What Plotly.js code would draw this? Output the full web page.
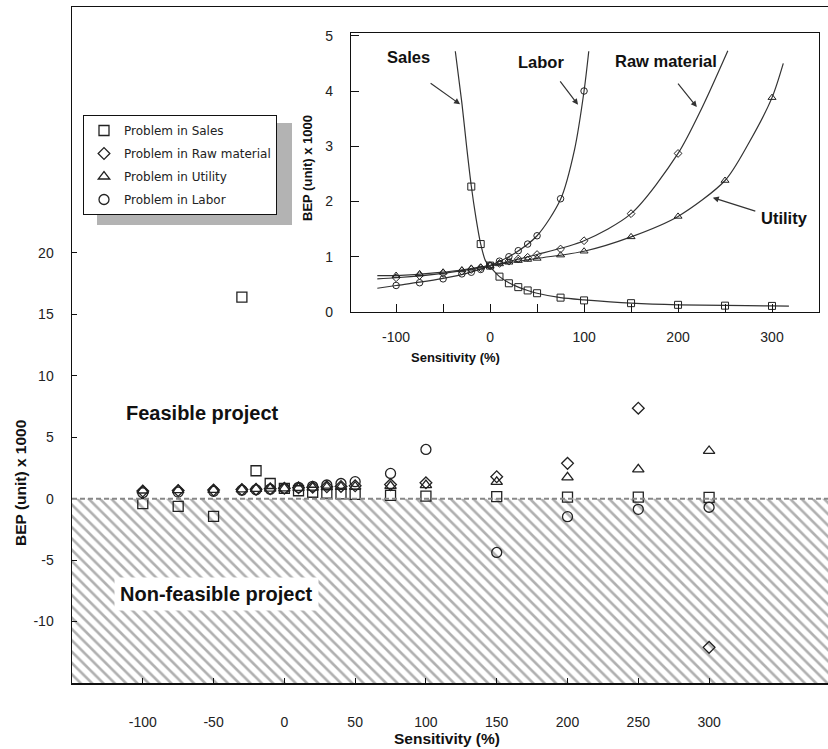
<!DOCTYPE html>
<html>
<head>
<meta charset="utf-8">
<script src="https://cdn.plot.ly/plotly-3.0.1.min.js"></script>
<style>html,body{margin:0;padding:0;background:#fff;}#chart{width:828px;height:749px;}</style>
</head>
<body>
<div id="chart"></div>
<script>
// ---- data (BEP in thousand units vs sensitivity %) ----
const sensitivity = [-100, -75, -50, -30, -20, -10, 0, 10, 20, 30, 40, 50, 75, 100, 150, 200, 250, 300];
const bepSales    = [-0.40, -0.63, -1.45, 16.4, 2.27, 1.23, 0.84, 0.64, 0.52, 0.45, 0.39, 0.34, 0.26, 0.21, 0.16, 0.13, 0.115, 0.11];
const bepRaw      = [0.62, 0.66, 0.70, 0.74, 0.77, 0.80, 0.84, 0.88, 0.92, 0.96, 0.99, 1.04, 1.14, 1.29, 1.78, 2.87, 7.36, -12.1];
const bepUtility  = [0.66, 0.69, 0.72, 0.76, 0.79, 0.81, 0.84, 0.87, 0.90, 0.93, 0.95, 0.97, 1.03, 1.10, 1.36, 1.73, 2.38, 3.88];
const bepLabor    = [0.48, 0.53, 0.60, 0.69, 0.72, 0.77, 0.84, 0.92, 1.00, 1.11, 1.23, 1.38, 2.05, 4.00, -4.38, -1.47, -0.87, -0.70];

// fitted curves
const curveSalesX   = [-37, -30, -25, -20, -15, -10, -5, 0, 10, 20, 30, 40, 50, 75, 100, 150, 200, 250, 300, 318];
const curveSalesY   = [4.72, 3.78, 3.00, 2.28, 1.70, 1.23, 0.93, 0.82, 0.64, 0.53, 0.45, 0.39, 0.34, 0.26, 0.22, 0.16, 0.13, 0.12, 0.11, 0.105];
const curveLaborX   = [-120, -100, -75, -50, -25, 0, 25, 50, 75, 90, 100, 105];
const curveLaborY   = [0.43, 0.48, 0.54, 0.61, 0.70, 0.84, 1.05, 1.38, 2.04, 2.95, 4.00, 4.72];
const curveRawX     = [-120, -100, -50, 0, 50, 100, 150, 200, 225, 253];
const curveRawY     = [0.60, 0.62, 0.70, 0.84, 1.04, 1.29, 1.78, 2.87, 3.68, 4.73];
const curveUtilX    = [-120, -100, -50, 0, 50, 100, 150, 200, 250, 275, 300, 312];
const curveUtilY    = [0.66, 0.66, 0.72, 0.84, 0.97, 1.10, 1.36, 1.73, 2.38, 3.05, 3.88, 4.50];

const seriesNames = ['Problem in Sales', 'Problem in Raw material', 'Problem in Utility', 'Problem in Labor'];
const mainXTicks = [-100, -50, 0, 50, 100, 150, 200, 250, 300];
const mainXTickText = ['-100', '-50', '0', '50', '100', '150', '200', '250', '300'];
const mainYTicks = [-10, -5, 0, 5, 10, 15, 20];
const mainYTickText = ['-10', '-5', '0', '5', '10', '15', '20'];
const insetXTicks = [-100, -50, 0, 50, 100, 150, 200, 250, 300];
const insetXTickText = ['-100', '', '0', '', '100', '', '200', '', '300'];
const insetYTicks = [0, 1, 2, 3, 4, 5];
const mainXRange = [-150, 384];
const mainYRange = [-15, 40];
const insetXRange = [-148, 350];
const insetYRange = [0, 5.05];

// ---- styling ----
const FONT = 'Liberation Sans, Arial, sans-serif';
const INK = '#222';
const symbols = ['square-open', 'diamond-open', 'triangle-up-open', 'circle-open'];
const mainSizes = [10, 9, 10, 10];
const insetSizes = [7, 6, 7, 6.5];
const seriesY = [bepSales, bepRaw, bepUtility, bepLabor];

const traces = [];
// hatched non-feasible region (below zero)
traces.push({
  x: mainXRange, y: [mainYRange[0], mainYRange[0]],
  type: 'scatter', mode: 'lines', fill: 'tozeroy',
  line: {width: 0, color: 'rgba(0,0,0,0)'},
  fillcolor: 'rgba(0,0,0,0)',
  fillpattern: {shape: '\\', fgcolor: '#b0b0b0', bgcolor: 'white', size: 8, solidity: 0.33},
  showlegend: false, hoverinfo: 'skip', xaxis: 'x', yaxis: 'y'
});
// main scatter
for (let i = 0; i < 4; i++) {
  traces.push({
    x: sensitivity, y: seriesY[i], name: seriesNames[i], type: 'scatter', mode: 'markers',
    marker: {symbol: symbols[i], size: mainSizes[i], color: INK, line: {color: INK, width: 1.3}},
    legendgroup: 'g' + i, xaxis: 'x', yaxis: 'y'
  });
}
// inset curves
const curves = [[curveSalesX, curveSalesY], [curveRawX, curveRawY], [curveUtilX, curveUtilY], [curveLaborX, curveLaborY]];
for (const c of curves) {
  traces.push({
    x: c[0], y: c[1], type: 'scatter', mode: 'lines',
    line: {color: '#333', width: 1.2, shape: 'spline', smoothing: 0.8},
    showlegend: false, hoverinfo: 'skip', xaxis: 'x2', yaxis: 'y2', cliponaxis: true
  });
}
// inset markers
for (let i = 0; i < 4; i++) {
  traces.push({
    x: sensitivity, y: seriesY[i], type: 'scatter', mode: 'markers',
    marker: {symbol: symbols[i], size: insetSizes[i], color: INK, line: {color: INK, width: 1}},
    showlegend: false, xaxis: 'x2', yaxis: 'y2', cliponaxis: true
  });
}

const W = 828, H = 749, L = 72, R = 0, T = 7, B = 66;
const pw = W - L - R, ph = H - T - B;
const px = v => (v - L) / pw;          // pixel -> paper x
const py = v => (H - B - v) / ph;      // pixel -> paper y
const C = {xanchor: 'center', yanchor: 'middle', showarrow: false};

const annotations = [
  Object.assign({text: '<b>Feasible project</b>', x: -58, y: 6.93, xref: 'x', yref: 'y',
   font: {family: FONT, size: 20, color: '#111'}}, C),
  Object.assign({text: '<b>Non-feasible project</b>', x: -48, y: -7.74, xref: 'x', yref: 'y',
   bgcolor: 'white', borderpad: 5, font: {family: FONT, size: 20, color: '#111'}}, C),
  Object.assign({text: '<b>BEP (unit) x 1000</b>', x: px(20), y: py(483), xref: 'paper', yref: 'paper',
   textangle: -90, font: {family: FONT, size: 15.5, color: '#111'}}, C),
  Object.assign({text: '<b>Sensitivity (%)</b>', x: px(447), y: py(738), xref: 'paper', yref: 'paper',
   font: {family: FONT, size: 15.5, color: '#111'}}, C),
  // inset titles
  Object.assign({text: '<b>BEP (unit) x 1000</b>', x: px(307), y: py(168), xref: 'paper', yref: 'paper',
   textangle: -90, font: {family: FONT, size: 13, color: '#111'}}, C),
  Object.assign({text: '<b>Sensitivity (%)</b>', x: px(455), y: py(357), xref: 'paper', yref: 'paper',
   font: {family: FONT, size: 13, color: '#111'}}, C),
  // inset labels
  Object.assign({text: '<b>Sales</b>', x: -87, y: 4.62, xref: 'x2', yref: 'y2', font: {family: FONT, size: 16.5, color: '#111'}}, C),
  Object.assign({text: '<b>Labor</b>', x: 54, y: 4.53, xref: 'x2', yref: 'y2', font: {family: FONT, size: 16.5, color: '#111'}}, C),
  Object.assign({text: '<b>Raw material</b>', x: 187, y: 4.55, xref: 'x2', yref: 'y2', font: {family: FONT, size: 16.5, color: '#111'}}, C),
  Object.assign({text: '<b>Utility</b>', x: 313, y: 1.71, xref: 'x2', yref: 'y2', font: {family: FONT, size: 16.5, color: '#111'}}, C),
  // arrows
  {text: '', x: -31.9, y: 3.76, xref: 'x2', yref: 'y2', showarrow: true, ax: -31, ay: -22, arrowhead: 2, arrowsize: 1, arrowwidth: 1.2, arrowcolor: '#333'},
  {text: '', x: 93.6, y: 3.75, xref: 'x2', yref: 'y2', showarrow: true, ax: -19, ay: -25, arrowhead: 2, arrowsize: 1, arrowwidth: 1.2, arrowcolor: '#333'},
  {text: '', x: 220, y: 3.71, xref: 'x2', yref: 'y2', showarrow: true, ax: -20, ay: -25, arrowhead: 2, arrowsize: 1, arrowwidth: 1.2, arrowcolor: '#333'},
  {text: '', x: 237, y: 2.07, xref: 'x2', yref: 'y2', showarrow: true, ax: 44, ay: 14, arrowhead: 2, arrowsize: 1, arrowwidth: 1.2, arrowcolor: '#333'}
];

const shapes = [
  // zero line
  {type: 'line', xref: 'paper', yref: 'y', x0: 0, x1: 1, y0: 0, y1: 0,
   line: {color: '#888', width: 2, dash: '5px,3px'}},
  // legend shadow
  {type: 'rect', xref: 'paper', yref: 'paper', x0: px(97), x1: px(292), y0: py(225), y1: py(123),
   fillcolor: '#b3b3b3', line: {width: 0}}
];

const axisCommon = {showgrid: false, zeroline: false, showline: true, linecolor: '#111',
  ticks: 'inside', tickcolor: '#111', tickfont: {family: FONT, size: 14, color: '#222'}};

const layout = {
  width: W, height: H,
  margin: {l: L, r: R, t: T, b: B, pad: 0},
  paper_bgcolor: 'white', plot_bgcolor: 'white',
  font: {family: FONT, color: '#222'},
  showlegend: true,
  legend: {x: px(83), y: py(115), xanchor: 'left', yanchor: 'top', bgcolor: 'white',
    bordercolor: '#111', borderwidth: 1, font: {family: 'DejaVu Sans, sans-serif', size: 12, color: '#222'},
    tracegroupgap: 4, itemwidth: 30},
  xaxis: Object.assign({}, axisCommon, {domain: [0, 1], range: mainXRange, tickvals: mainXTicks,
    ticktext: mainXTickText, ticklen: 5, linewidth: 1.5, mirror: true, ticklabelstandoff: 26, anchor: 'y'}),
  yaxis: Object.assign({}, axisCommon, {domain: [0, 1], range: mainYRange, tickvals: mainYTicks,
    ticktext: mainYTickText, ticklen: 5, linewidth: 1.5, mirror: false, ticklabelstandoff: 14, anchor: 'x'}),
  xaxis2: Object.assign({}, axisCommon, {domain: [px(351), px(819)], range: insetXRange,
    tickvals: insetXTicks, ticktext: insetXTickText, ticklen: 8, linewidth: 1.2, mirror: true,
    ticklabelstandoff: 12, anchor: 'y2'}),
  yaxis2: Object.assign({}, axisCommon, {domain: [py(312), py(33)], range: insetYRange,
    tickvals: insetYTicks, ticklen: 8, linewidth: 1.2, mirror: true, ticklabelstandoff: 14, anchor: 'x2'}),
  annotations: annotations,
  shapes: shapes
};

Plotly.newPlot('chart', traces, layout, {displayModeBar: false, staticPlot: true});
</script>
</body>
</html>
